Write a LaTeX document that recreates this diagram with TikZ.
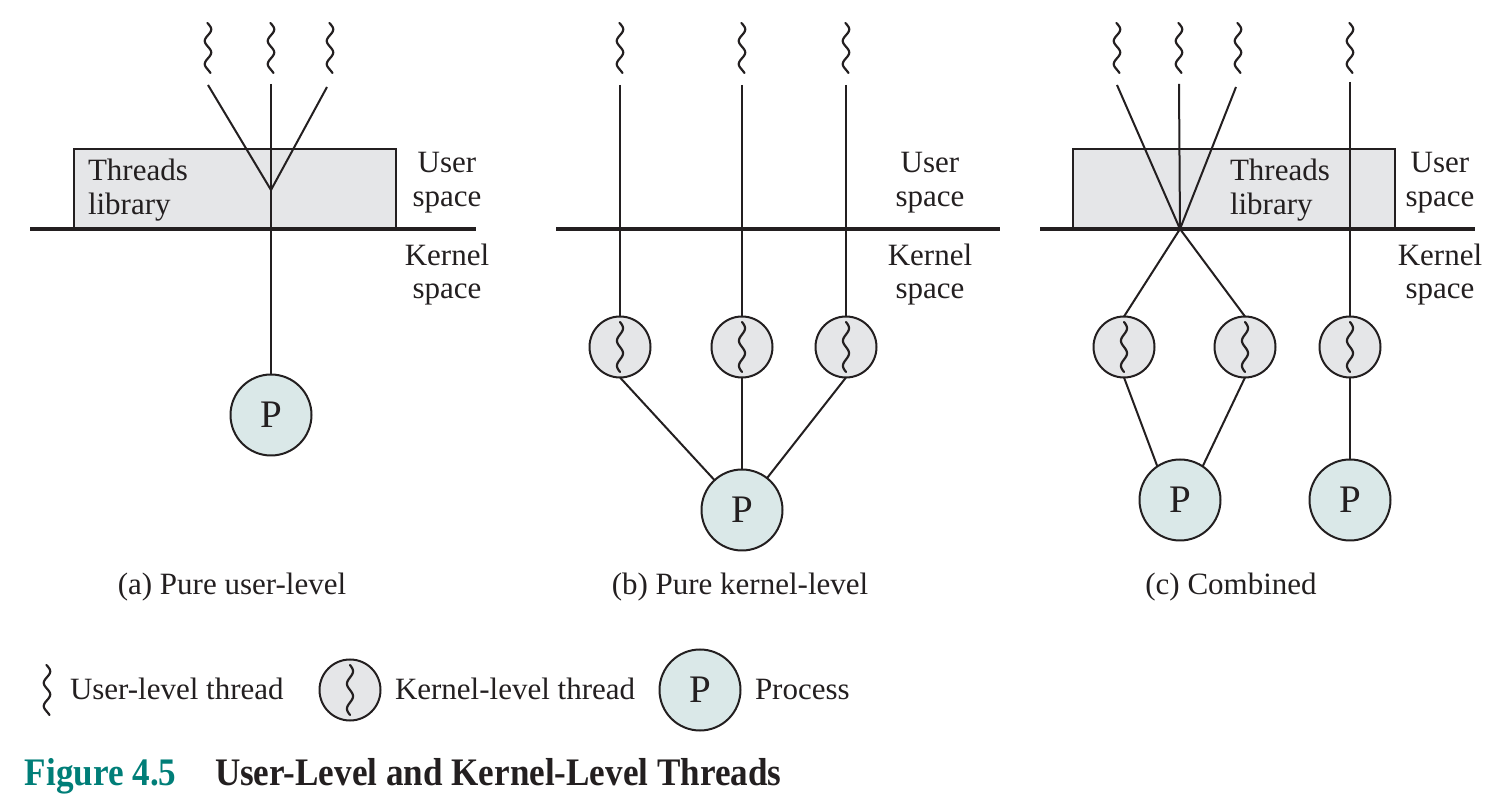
\documentclass[tikz,border=0pt]{standalone}
\usepackage{fontspec}
\setmainfont{Liberation Serif}
\newfontfamily\capfont[FakeStretch=0.9]{Liberation Serif}
\usetikzlibrary{calc}
\definecolor{kfill}{RGB}{229,230,232}
\definecolor{pfill}{RGB}{218,232,232}
\definecolor{figteal}{RGB}{0,126,120}
\definecolor{ink}{RGB}{35,31,32}
\begin{document}
\begin{tikzpicture}[x=0.5pt,y=-0.5pt,
  every node/.style={inner sep=0pt, outer sep=0pt},
  txt/.style={font=\fontsize{15.5}{17}\selectfont, text=ink},
  conn/.style={draw=ink, line width=1pt},
  wave/.style={draw=ink, line width=1.1pt, line cap=round},
  uthr/.style={minimum width=12pt, minimum height=30pt,
    path picture={\draw[wave] plot[domain=-25:25,samples=80,smooth] ([shift={({3.2*sin(15.6*\x+20)},\x)}]path picture bounding box.center);}},
  kthr/.style={circle, draw=ink, line width=1pt, fill=kfill, minimum size=30.5pt,
    path picture={\draw[wave] plot[domain=-25:25,samples=80,smooth] ([shift={({3*sin(14.4*\x)},\x)}]path picture bounding box.center);}},
  proc/.style={circle, draw=ink, line width=1pt, fill=pfill, minimum size=40.5pt, font=\fontsize{19.5}{20}\selectfont, text=ink},
  lib/.style={draw=ink, line width=1pt, fill=kfill, minimum width=161pt, minimum height=40pt},
  kline/.style={draw=ink, line width=1.8pt},
  capt/.style={font=\capfont\bfseries\fontsize{19.5}{21}\selectfont},
]
\useasboundingbox (0,0) rectangle (1512,812);

% ---------------- (a) Pure user-level ----------------
\node[lib] (boxa) at (235,189) {};
\node[uthr] (ua1) at (208,48) {};
\node[uthr] (ua2) at (271,48) {};
\node[uthr] (ua3) at (330,48) {};
\coordinate (sa1) at (208,85);
\coordinate (sa2) at (271,84);
\coordinate (sa3) at (327,87);
\coordinate (ja) at (271,190);
\node[proc] (pa) at (271,415) {P};
\draw[conn] (sa1) -- (ja);
\draw[conn] (sa3) -- (ja);
\draw[conn] (sa2) -- (pa);
\coordinate (kla1) at (30,229);
\coordinate (kla2) at (476,229);
\draw[kline] (kla1) -- (kla2);
\node[txt, anchor=base west] (tla1) at (88,181) {Threads};
\node[txt, anchor=base west] (tla2) at (88,215) {library};
\node[txt, anchor=base] (usa1) at (447,173) {User};
\node[txt, anchor=base] (usa2) at (447,207) {space};
\node[txt, anchor=base] (ksa1) at (447,266) {Kernel};
\node[txt, anchor=base] (ksa2) at (447,299) {space};
\node[txt, anchor=base] (capa) at (232,595) {(a) Pure user-level};

% ---------------- (b) Pure kernel-level ----------------
\node[uthr] (ub1) at (620,48) {};
\node[uthr] (ub2) at (742,48) {};
\node[uthr] (ub3) at (846,48) {};
\coordinate (sb1) at (620,85);
\coordinate (sb2) at (742,85);
\coordinate (sb3) at (846,85);
\node[kthr] (kb1) at (620,347) {};
\node[kthr] (kb2) at (742,347) {};
\node[kthr] (kb3) at (846,347) {};
\node[proc] (pb) at (742,510) {P};
\draw[conn] (sb1) -- (kb1);
\draw[conn] (sb2) -- (kb2);
\draw[conn] (sb3) -- (kb3);
\draw[conn] (kb1.south) -- (pb);
\draw[conn] (kb2.south) -- (pb);
\draw[conn] (kb3.south) -- (pb);
\coordinate (klb1) at (556,229);
\coordinate (klb2) at (1000,229);
\draw[kline] (klb1) -- (klb2);
\node[txt, anchor=base] (usb1) at (930,173) {User};
\node[txt, anchor=base] (usb2) at (930,207) {space};
\node[txt, anchor=base] (ksb1) at (930,266) {Kernel};
\node[txt, anchor=base] (ksb2) at (930,299) {space};
\node[txt, anchor=base] (capb) at (740,595) {(b) Pure kernel-level};

% ---------------- (c) Combined ----------------
\node[lib] (boxc) at (1234,189) {};
\node[uthr] (uc1) at (1117,48) {};
\node[uthr] (uc2) at (1179,48) {};
\node[uthr] (uc3) at (1238,48) {};
\node[uthr] (uc4) at (1350,48) {};
\coordinate (sc1) at (1117,85);
\coordinate (sc2) at (1179,84);
\coordinate (sc3) at (1236,87);
\coordinate (sc4) at (1350,82);
\coordinate (jc) at (1180,229);
\node[kthr] (kc1) at (1124,347) {};
\node[kthr] (kc2) at (1245,347) {};
\node[kthr] (kc3) at (1350,347) {};
\node[proc] (pc1) at (1180,500) {P};
\node[proc] (pc2) at (1350,500) {P};
\draw[conn] (sc1) -- (jc);
\draw[conn] (sc2) -- (jc);
\draw[conn] (sc3) -- (jc);
\draw[conn] (jc) -- (kc1.north);
\draw[conn] (jc) -- (kc2.north);
\draw[conn] (sc4) -- (kc3);
\draw[conn] (kc1.south) -- (pc1.124);
\draw[conn] (kc2.south) -- (pc1.56);
\draw[conn] (kc3) -- (pc2);
\coordinate (klc1) at (1040,229);
\coordinate (klc2) at (1475,229);
\draw[kline] (klc1) -- (klc2);
\node[txt, anchor=base west] (tlc1) at (1230,181) {Threads};
\node[txt, anchor=base west] (tlc2) at (1230,215) {library};
\node[txt, anchor=base] (usc1) at (1440,173) {User};
\node[txt, anchor=base] (usc2) at (1440,207) {space};
\node[txt, anchor=base] (ksc1) at (1440,266) {Kernel};
\node[txt, anchor=base] (ksc2) at (1440,299) {space};
\node[txt, anchor=base] (capc) at (1231,595) {(c) Combined};

% ---------------- legend ----------------
\node[uthr] (lgu) at (47,690) {};
\node[txt, anchor=base west] (lgut) at (70,700) {User-level thread};
\node[kthr] (lgk) at (350,690) {};
\node[txt, anchor=base west] (lgkt) at (395,700) {Kernel-level thread};
\node[proc] (lgp) at (700,690) {P};
\node[txt, anchor=base west] (lgpt) at (755,700) {Process};

% ---------------- figure caption ----------------
\node[capt, text=figteal, anchor=base west] (fignum) at (25,785) {Figure 4.5};
\node[capt, text=ink, anchor=base west] (figtitle) at (215,785) {User-Level and Kernel-Level Threads};
\end{tikzpicture}
\end{document}
